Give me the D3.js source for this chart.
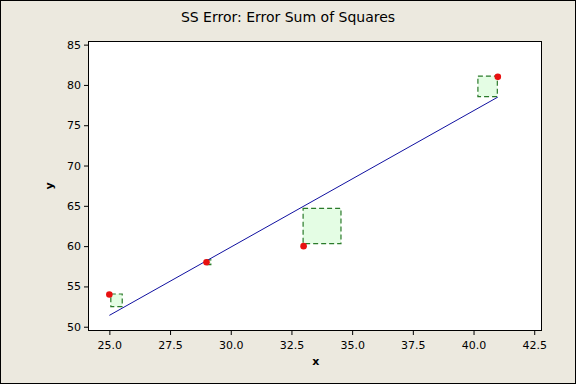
<!DOCTYPE html>
<html>
<head>
<meta charset="utf-8">
<script src="https://cdn.jsdelivr.net/npm/d3@7"></script>
<style>
  body { margin: 0; background: #ece9df; }
  svg { display: block; }
  text { font-family: Tahoma, "DejaVu Sans", sans-serif; fill: #000; }
</style>
</head>
<body>
<div id="visArea"></div>
<script>
// data
var xValues = [25, 29, 33, 41]
var yValues = [54, 58, 60, 81]
// fitted line end points
var fitX = [25, 41]
var fitY = [51.41, 78.49]
// residual squares: [x0, x1, y0, y1]
var squareX0 = [25.06, 29.0, 32.98, 40.18]
var squareX1 = [25.53, 29.18, 34.54, 40.98]
var squareY0 = [52.49, 57.7, 60.3, 78.56]
var squareY1 = [54.06, 58.3, 64.68, 81.08]
var xTicks = [25, 27.5, 30, 32.5, 35, 37.5, 40, 42.5]
var yTicks = [50, 55, 60, 65, 70, 75, 80, 85]

var viewWidth = 576
var viewHeight = 384
var plot = { left: 88, right: 542, top: 41, bottom: 331 }

var xScale = d3.scaleLinear().domain([24.12, 42.82]).range([plot.left, plot.right])
var yScale = d3.scaleLinear().domain([49.47, 85.45]).range([plot.bottom, plot.top])

var svg = d3.select('#visArea')
  .append('svg')
  .attr('width', viewWidth)
  .attr('height', viewHeight)

svg.append('rect')
  .attr('x', 0.5).attr('y', 0.5)
  .attr('width', viewWidth - 1).attr('height', viewHeight - 1)
  .attr('fill', '#ece9df')
  .attr('stroke', '#000')

svg.append('text')
  .attr('x', 288).attr('y', 22)
  .attr('text-anchor', 'middle')
  .style('font-size', '14px')
  .text('SS Error: Error Sum of Squares')

svg.append('rect')
  .attr('x', plot.left).attr('y', plot.top)
  .attr('width', plot.right - plot.left).attr('height', plot.bottom - plot.top)
  .attr('fill', '#fff')

var xAxis = d3.axisBottom(xScale).tickValues(xTicks).tickFormat(d3.format('.1f')).tickSize(4).tickSizeOuter(0)
var yAxis = d3.axisLeft(yScale).tickValues(yTicks).tickFormat(d3.format('d')).tickSize(4).tickSizeOuter(0)

var gx = svg.append('g')
  .attr('transform', 'translate(0,' + plot.bottom + ')')
  .call(xAxis)
var gy = svg.append('g')
  .attr('transform', 'translate(' + plot.left + ',0)')
  .call(yAxis)
svg.selectAll('.domain').remove()
svg.selectAll('.tick text').style('font-size', '11px').attr('fill', '#000')
svg.selectAll('.tick line').attr('stroke', '#000')
gx.selectAll('.tick text').attr('dy', '1.0em')

svg.append('rect')
  .attr('x', plot.left + 0.5).attr('y', plot.top + 0.5)
  .attr('width', plot.right - plot.left - 1).attr('height', plot.bottom - plot.top - 1)
  .attr('fill', 'none')
  .attr('stroke', '#000')

// residual squares
svg.selectAll('rect.sq')
  .data(d3.range(squareX0.length))
  .enter().append('rect')
  .attr('class', 'sq')
  .attr('x', (i) => xScale(squareX0[i]))
  .attr('y', (i) => yScale(squareY1[i]))
  .attr('width', (i) => xScale(squareX1[i]) - xScale(squareX0[i]))
  .attr('height', (i) => yScale(squareY0[i]) - yScale(squareY1[i]))
  .attr('fill', '#e4fde4')
  .attr('stroke', '#2a7a2a')
  .attr('stroke-width', 1.2)
  .attr('stroke-dasharray', '5,3')

// fitted line
svg.append('line')
  .attr('x1', xScale(fitX[0])).attr('y1', yScale(fitY[0]))
  .attr('x2', xScale(fitX[1])).attr('y2', yScale(fitY[1]))
  .attr('stroke', '#1010a0')
  .attr('stroke-width', 1)

// points
svg.selectAll('circle')
  .data(d3.range(xValues.length))
  .enter().append('circle')
  .attr('cx', (i) => xScale(xValues[i]))
  .attr('cy', (i) => yScale(yValues[i]))
  .attr('r', 3.3)
  .attr('fill', '#e81010')

svg.append('text')
  .attr('x', xScale(33.5)).attr('y', 365)
  .attr('text-anchor', 'middle')
  .style('font-size', '11px').style('font-weight', 'bold')
  .text('x')

svg.append('text')
  .attr('transform', 'translate(53,186) rotate(-90)')
  .attr('text-anchor', 'middle')
  .style('font-size', '11px').style('font-weight', 'bold')
  .text('y')
</script>
</body>
</html>
